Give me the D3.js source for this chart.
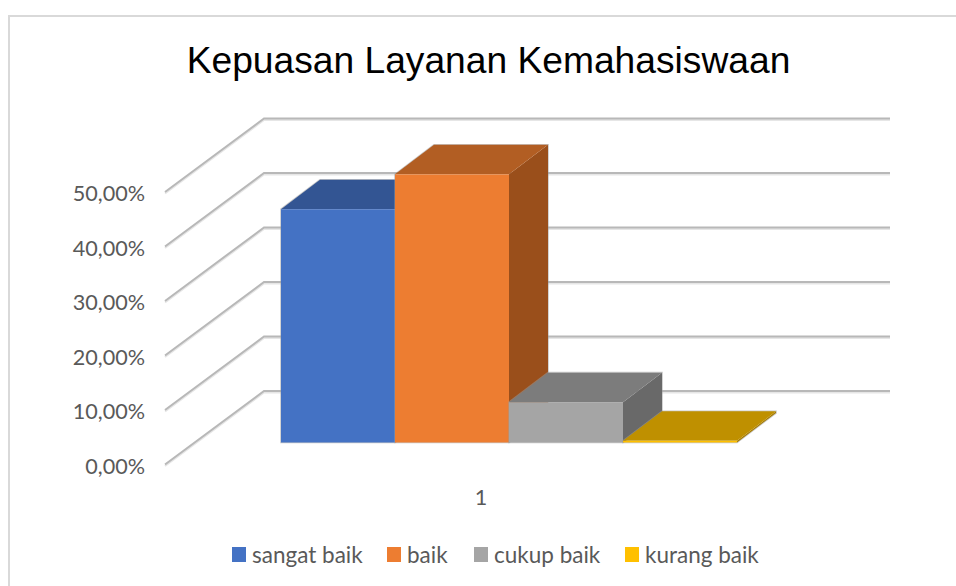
<!DOCTYPE html>
<html>
<head>
<meta charset="utf-8">
<script src="https://cdnjs.cloudflare.com/ajax/libs/d3/7.8.5/d3.min.js"></script>
<style>
html,body{margin:0;padding:0;background:#fff;}
svg{display:block;}
</style>
</head>
<body>
<svg id="c" width="956" height="586"></svg>
<script>
const title = "Kepuasan Layanan Kemahasiswaan";
const seriesNames = ["sangat baik", "baik", "cukup baik", "kurang baik"];
const seriesValues = [42.8, 49.2, 7.4, 0.3];
const categoryLabel = "1";
const yTicks = [0, 10, 20, 30, 40, 50];
const yTickLabels = ["0,00%", "10,00%", "20,00%", "30,00%", "40,00%", "50,00%"];

const palette = {
  front: ["#4472c4", "#ed7d31", "#a5a5a5", "#ffc000"],
  top:   ["#335593", "#b25e23", "#7c7c7c", "#bf9000"],
  side:  ["#2f4f8a", "#9a4f1b", "#696969", "#a67c00"]
};

const svg = d3.select("#c");
const font = "Lato, Carlito, 'Noto Sans', sans-serif";
const textGrey = "#595959";

// chart frame
svg.append("path").attr("d", "M9,586V16H956").attr("fill", "none")
  .attr("stroke", "#d9d9d9").attr("stroke-width", 2);

// scales
const y = d3.scaleLinear().domain([0, 50]).range([464.5, 192]);
const x = d3.scaleBand().domain(seriesNames).range([281, 737]).padding(0);
const wallDx = 99, wallDy = -73.5;   // depth of the whole floor
const barDx = 39, barDy = -29.5;     // depth of each bar
const barBaseShift = -22;            // bars stand inside the floor
const wallRight = 890;

// gridlines
const grid = svg.append("g").attr("fill", "none");
yTicks.forEach(t => {
  const d = `M${165},${y(t)}L${165 + wallDx},${y(t) + wallDy}H${wallRight}`;
  grid.append("path").attr("d", d).attr("stroke", "#e6e6e6").attr("stroke-width", 2)
    .attr("transform", "translate(0,1.5)");
  grid.append("path").attr("d", d).attr("stroke", "#b8b8b8").attr("stroke-width", 2);
});

// axis labels
svg.append("g").selectAll("text").data(yTicks).join("text")
  .attr("x", 145).attr("y", d => y(d) + 9)
  .attr("text-anchor", "end").attr("font-family", font).attr("font-size", 21.6)
  .attr("fill", textGrey).text((d, i) => yTickLabels[i]);

svg.append("text").attr("x", 481).attr("y", 505).attr("text-anchor", "middle")
  .attr("font-family", font).attr("font-size", 21.6).attr("fill", textGrey).text(categoryLabel);

// 3-D bars (drawn back-to-front left to right, each later bar overlaps the previous side)
const data = seriesNames.map((name, i) => ({ name, value: seriesValues[i], i }));
const bars = svg.append("g").selectAll("g").data(data).join("g");
const base = y(0) + barBaseShift;
const barTop = d => y(d.value) + barBaseShift;

bars.append("path") // soft outline
  .attr("d", d => {
    const l = x(d.name), r = l + x.bandwidth(), t = barTop(d);
    return `M${l},${base}V${t}L${l + barDx},${t + barDy}H${r + barDx}V${base + barDy}L${r},${base}Z`;
  })
  .attr("fill", "none").attr("stroke", "#9a9a9a").attr("stroke-opacity", 0.55).attr("stroke-width", 1.6);
bars.append("path") // side
  .attr("d", d => {
    const r = x(d.name) + x.bandwidth(), t = barTop(d);
    return `M${r},${base}V${t}L${r + barDx},${t + barDy}V${base + barDy}Z`;
  })
  .attr("fill", d => palette.side[d.i]);
bars.append("path") // top
  .attr("d", d => {
    const l = x(d.name), r = l + x.bandwidth(), t = barTop(d);
    return `M${l},${t}L${l + barDx},${t + barDy}H${r + barDx}L${r},${t}Z`;
  })
  .attr("fill", d => palette.top[d.i]);
bars.append("rect") // front
  .attr("x", d => x(d.name)).attr("width", x.bandwidth())
  .attr("y", barTop).attr("height", d => base - barTop(d))
  .attr("fill", d => palette.front[d.i]);

// title
svg.append("text").attr("x", 488.5).attr("y", 73).attr("text-anchor", "middle")
  .attr("font-family", "'Liberation Sans', Arial, sans-serif").attr("font-size", 37.2)
  .attr("fill", "#000").text(title);

// legend
const legendSwatchX = [232, 387, 474, 625];
const lg = svg.append("g").selectAll("g").data(data).join("g")
  .attr("transform", d => `translate(${legendSwatchX[d.i]},547)`);
lg.append("rect").attr("width", 14).attr("height", 15).attr("fill", d => palette.front[d.i]);
lg.append("text").attr("x", 20).attr("y", 15.5)
  .attr("font-family", font).attr("font-size", 22.5).attr("fill", textGrey).text(d => d.name);
</script>
</body>
</html>
